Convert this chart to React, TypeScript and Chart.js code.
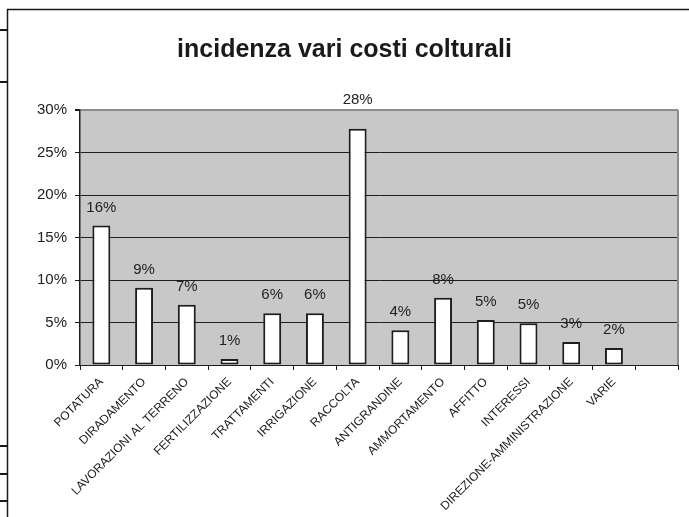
import React, { useEffect, useRef } from "react";
import { Chart, registerables } from "chart.js";

Chart.register(...registerables);

const TITLE = "incidenza vari costi colturali";
const categories = [
  "POTATURA",
  "DIRADAMENTO",
  "LAVORAZIONI AL TERRENO",
  "FERTILIZZAZIONE",
  "TRATTAMENTI",
  "IRRIGAZIONE",
  "RACCOLTA",
  "ANTIGRANDINE",
  "AMMORTAMENTO",
  "AFFITTO",
  "INTERESSI",
  "DIREZIONE-AMMINISTRAZIONE",
  "VARIE",
  "",
];
const values: (number | null)[] = [16.4, 9.1, 7.1, 0.7, 6.1, 6.1, 27.8, 4.1, 7.9, 5.3, 4.9, 2.7, 2.0, null];
const valueLabels = ["16%", "9%", "7%", "1%", "6%", "6%", "28%", "4%", "8%", "5%", "5%", "3%", "2%", ""];
const yMin = 0;
const yMax = 30;
const yStep = 5;

const FONT = "'Liberation Sans', Arial, sans-serif";

const decorPlugin = {
  id: "decor",
  beforeDraw(chart: any) {
    const { ctx, chartArea } = chart;
    ctx.save();
    ctx.fillStyle = "#ffffff";
    ctx.fillRect(0, 0, chart.width, chart.height);
    // page frame
    ctx.strokeStyle = "#1a1a1a";
    ctx.lineWidth = 1.5;
    ctx.beginPath();
    ctx.moveTo(7.5, chart.height);
    ctx.lineTo(7.5, 9.5);
    ctx.lineTo(chart.width, 9.5);
    ctx.stroke();
    ctx.lineWidth = 2;
    [30, 82, 446, 474, 501].forEach((y) => {
      ctx.beginPath();
      ctx.moveTo(0, y);
      ctx.lineTo(7.5, y);
      ctx.stroke();
    });
    // plot background
    ctx.fillStyle = "#c8c8c8";
    ctx.fillRect(chartArea.left, chartArea.top, chartArea.right - chartArea.left, chartArea.bottom - chartArea.top);
    // title
    ctx.fillStyle = "#1a1a1a";
    ctx.font = `bold 25px ${FONT}`;
    ctx.textAlign = "center";
    ctx.textBaseline = "alphabetic";
    ctx.fillText(TITLE, chart.width / 2, 57);
    ctx.restore();
  },
  beforeDatasetsDraw(chart: any) {
    const { ctx, chartArea } = chart;
    ctx.save();
    ctx.strokeStyle = "#8c8c8c";
    ctx.lineWidth = 2;
    ctx.beginPath();
    ctx.moveTo(chartArea.right, chartArea.top);
    ctx.lineTo(chartArea.right, chartArea.bottom);
    ctx.stroke();
    ctx.restore();
  },
  afterDatasetsDraw(chart: any) {
    const { ctx, chartArea } = chart;
    const meta = chart.getDatasetMeta(0);
    ctx.save();
    ctx.fillStyle = "#222222";
    ctx.font = `15px ${FONT}`;
    ctx.textAlign = "center";
    ctx.textBaseline = "middle";
    meta.data.forEach((bar: any, i: number) => {
      if (values[i] == null) return;
      let y = bar.y - 18;
      if (y < chartArea.top + 8) y = chartArea.top - 10;
      ctx.fillText(valueLabels[i], bar.x, y);
    });
    ctx.restore();
  },
};

export default function App() {
  const ref = useRef<HTMLCanvasElement | null>(null);
  useEffect(() => {
    if (!ref.current) return;
    const chart = new Chart(ref.current, {
      type: "bar",
      data: {
        labels: categories,
        datasets: [
          {
            data: values,
            backgroundColor: "#ffffff",
            borderColor: "#1e1e1e",
            borderWidth: 2,
            borderSkipped: false,
            barPercentage: 0.42,
            categoryPercentage: 1,
          },
        ],
      },
      options: {
        animation: false,
        responsive: true,
        maintainAspectRatio: false,
        layout: { padding: { top: 110, right: 11, left: 0, bottom: 0 } },
        plugins: {
          legend: { display: false },
          title: { display: false },
          tooltip: { enabled: false },
        },
        scales: {
          x: {
            afterFit(scale: any) {
              scale.height = 152;
            },
            grid: {
              drawOnChartArea: false,
              drawTicks: true,
              tickLength: 5,
              offset: true,
              color: "#1e1e1e",
            },
            border: { color: "#1e1e1e", width: 1 },
            ticks: {
              autoSkip: false,
              minRotation: 45,
              maxRotation: 45,
              padding: 5,
              color: "#222222",
              font: { family: FONT, size: 12 },
            },
          },
          y: {
            min: yMin,
            max: yMax,
            afterFit(scale: any) {
              scale.width = 80;
            },
            grid: {
              color: (c: any) => (c.tick && c.tick.value === yMax ? "#8c8c8c" : "#1e1e1e"),
              lineWidth: (c: any) => (c.tick && c.tick.value === yMax ? 2 : 1),
              tickColor: "#1e1e1e",
              tickLength: 5,
            },
            border: { color: "#1e1e1e", width: 1.5 },
            ticks: {
              stepSize: yStep,
              padding: 8,
              color: "#222222",
              font: { family: FONT, size: 15 },
              callback: (v: any) => `${v}%`,
            },
          },
        },
      },
      plugins: [decorPlugin],
    });
    return () => chart.destroy();
  }, []);
  return (
    <div style={{ position: "fixed", left: 0, top: 0, width: 689, height: 517, background: "#fff" }}>
      <canvas ref={ref} />
    </div>
  );
}
